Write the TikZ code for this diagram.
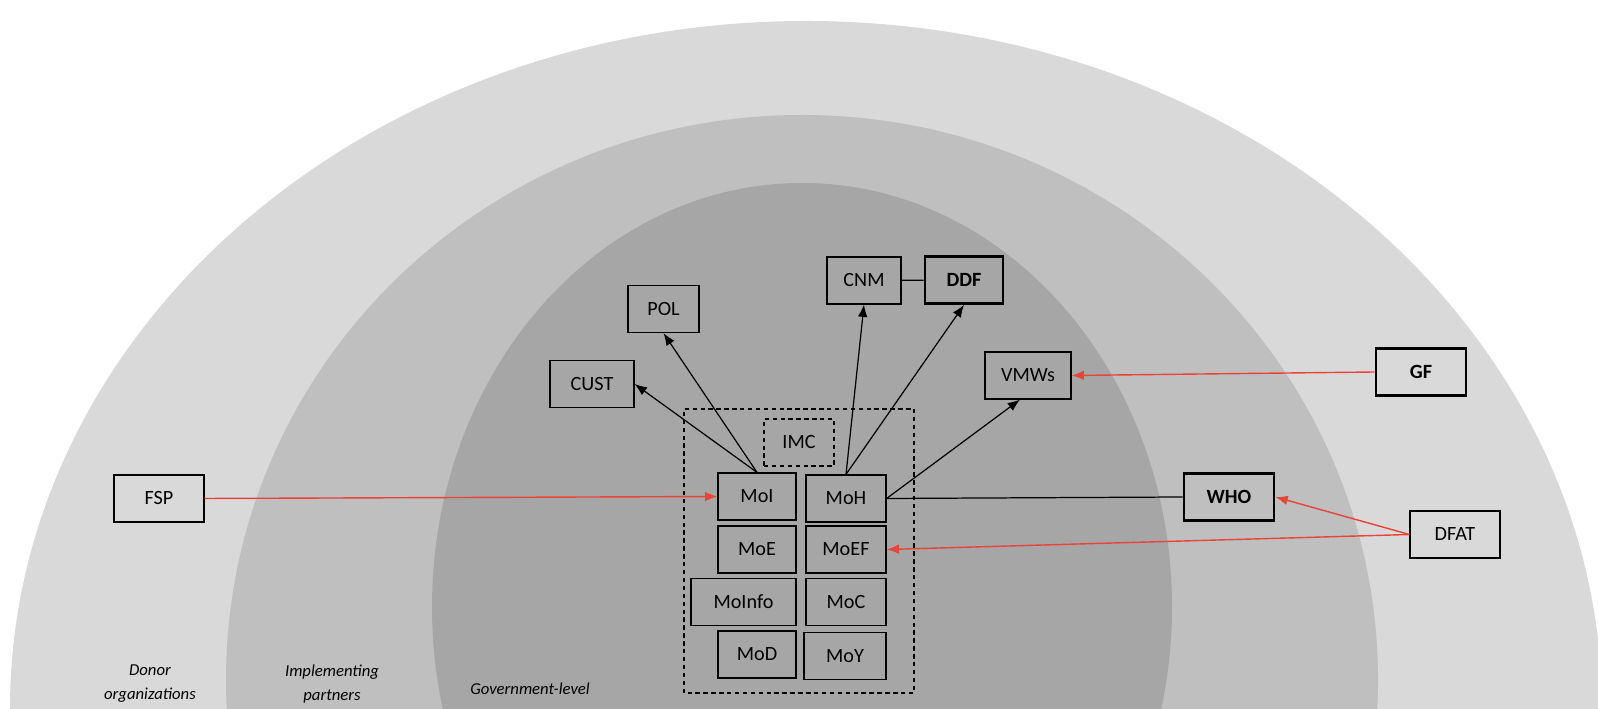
\documentclass[tikz,border=0pt]{standalone}
\usepackage{fontspec}
\setmainfont{Carlito}
\usetikzlibrary{arrows.meta,calc}

\definecolor{ringout}{HTML}{D9D9D9}
\definecolor{ringmid}{HTML}{BFBFBF}
\definecolor{ringin}{HTML}{A6A6A6}
\definecolor{fundred}{RGB}{232,68,58}

\tikzset{
  box/.style={draw=black,line width=0.7pt,minimum height=0.94cm,inner sep=2pt,
    font=\fontsize{11.5}{13}\selectfont},
  boldbox/.style={box,line width=1.6pt,font=\fontsize{11.5}{13}\selectfont\bfseries},
  dashbox/.style={box,dash pattern=on 2.5pt off 2pt},
  link/.style={line width=0.7pt,-{Latex[length=7pt,width=5.5pt]}},
  fund/.style={link,draw=fundred,line width=0.8pt},
  ring/.style={font=\fontsize{9.5}{13.6}\selectfont\itshape,align=center}
}

\begin{document}
\begin{tikzpicture}
\useasboundingbox (0,0) rectangle (31.96,14.18);
\clip (0,0) rectangle (31.96,14.18);

% the three levels
\fill[ringout] (16.12,0) ellipse [x radius=15.92cm,y radius=13.76cm];
\fill[ringmid] (16.04,0.58) ellipse [x radius=11.52cm,y radius=11.30cm];
\fill[ringin] (16.04,2.04) ellipse [x radius=7.40cm,y radius=8.48cm];

\node[ring] (donor) at (3.00,0.50) {Donor\\organizations};
\node[ring] (impl) at (6.64,0.50) {Implementing\\partners};
\node[ring] (gov) at (10.60,0.40) {Government-level};

% ministries
\draw[dash pattern=on 2.5pt off 2pt,line width=0.7pt] (13.68,0.32) rectangle (18.28,6.00);
\node[dashbox,minimum width=1.40cm] (IMC) at (15.98,5.33) {IMC};
\node[box,minimum width=1.56cm] (MoI) at (15.14,4.25) {MoI};
\node[box,minimum width=1.60cm] (MoH) at (16.92,4.21) {MoH};
\node[box,minimum width=1.56cm] (MoE) at (15.14,3.19) {MoE};
\node[box,minimum width=1.60cm] (MoEF) at (16.92,3.19) {MoEF};
\node[box,minimum width=2.10cm] (MoInfo) at (14.87,2.14) {MoInfo};
\node[box,minimum width=1.60cm] (MoC) at (16.92,2.14) {MoC};
\node[box,minimum width=1.56cm] (MoD) at (15.14,1.09) {MoD};
\node[box,minimum width=1.64cm] (MoY) at (16.90,1.06) {MoY};

% partners
\node[box,minimum width=1.68cm] (CUST) at (11.84,6.50) {CUST};
\node[box,minimum width=1.42cm] (POL) at (13.27,8.00) {POL};
\node[box,minimum width=1.48cm] (CNM) at (17.28,8.57) {CNM};
\node[boldbox,minimum width=1.56cm] (DDF) at (19.28,8.58) {DDF};
\node[box,minimum width=1.72cm] (VMWs) at (20.56,6.67) {VMWs};
\node[boldbox,minimum width=1.80cm] (WHO) at (24.58,4.24) {WHO};

% donors
\node[box,minimum width=1.80cm] (FSP) at (3.18,4.21) {FSP};
\node[boldbox,minimum width=1.80cm] (GF) at (28.42,6.74) {GF};
\node[box,minimum width=1.80cm] (DFAT) at (29.10,3.49) {DFAT};

\draw[link] (MoI.north) -- (CUST.east);
\draw[link] (MoI.north) -- (POL.south);
\draw[link] (MoH.north) -- (CNM.south);
\draw[link] (MoH.north) -- (DDF.south);
\draw[link] (MoH.east) -- ([xshift=-0.16cm]VMWs.south);
\draw[line width=0.7pt] (MoH.east) -- (WHO.west);
\draw[line width=0.7pt] (CNM) -- (DDF);

\draw[fund] (FSP.east) -- (MoI.west);
\draw[fund] (GF.west) -- (VMWs.east);
\draw[fund] (DFAT.west) -- (WHO.east);
\draw[fund] (DFAT.west) -- (MoEF.east);
\end{tikzpicture}
\end{document}
